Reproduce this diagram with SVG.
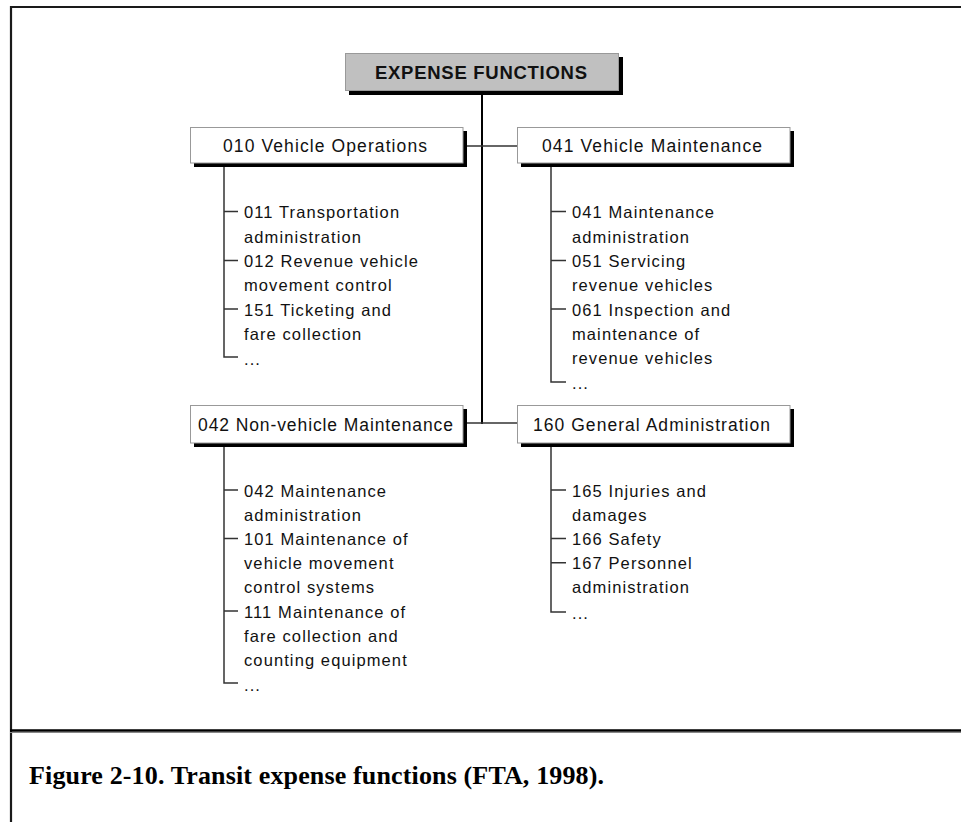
<svg xmlns="http://www.w3.org/2000/svg" width="961" height="822" viewBox="0 0 961 822">
  <style>
    .frame { stroke: #1a1a1a; stroke-width: 2.2; fill: none; }
    .trunk { stroke: #000; stroke-width: 2; fill: none; }
    .link { stroke: #333; stroke-width: 1.5; fill: none; }
    .box { fill: #fff; stroke: #999; stroke-width: 1; }
    .root { fill: #c0c0c0; stroke: #999; stroke-width: 1; }
    .shadow { fill: #000; }
    .head { font-family: "Liberation Sans", Arial, sans-serif; font-size: 17.5px; fill: #111; text-anchor: middle; }
    .rootlabel { font-family: "Liberation Sans", Arial, sans-serif; font-size: 18.5px; font-weight: bold; fill: #111; text-anchor: middle; }
    .item { font-family: "Liberation Sans", Arial, sans-serif; font-size: 16.5px; letter-spacing: 1.1px; fill: #111; }
    .caption { font-family: "Liberation Serif", "Times New Roman", Times, serif; font-size: 26px; font-weight: bold; fill: #000; }
  </style>

  <rect x="0" y="0" width="961" height="822" fill="#fff"/>

  <!-- figure frame and caption divider -->
  <g id="frame">
    <line class="frame" x1="10" y1="7" x2="961" y2="7"/>
    <line class="frame" x1="11" y1="6" x2="11" y2="822"/>
    <line x1="10" y1="730.5" x2="961" y2="730.5" stroke="#000" stroke-width="2.5"/>
    <line x1="10" y1="732.5" x2="961" y2="732.5" stroke="#888" stroke-width="1"/>
  </g>

  <!-- connectors -->
  <g id="connectors">
    <line class="trunk" x1="482" y1="91" x2="482" y2="424"/>
    <line class="link" x1="463" y1="146" x2="517" y2="146"/>
    <line class="link" x1="463" y1="423" x2="517" y2="423"/>

    <!-- 010 list bracket -->
    <path class="link" d="M224,167 V357 H238 M224,211.5 H238 M224,260.5 H238 M224,309 H238"/>
    <!-- 041 list bracket -->
    <path class="link" d="M551,167 V382 H566 M551,211.5 H566 M551,260.5 H566 M551,309 H566"/>
    <!-- 042 list bracket -->
    <path class="link" d="M224,447 V683 H238 M224,490 H238 M224,538.5 H238 M224,611 H238"/>
    <!-- 160 list bracket -->
    <path class="link" d="M551,447 V612 H566 M551,490 H566 M551,538.5 H566 M551,562.7 H566"/>
  </g>

  <g id="expense-functions">
    <rect class="shadow" x="349" y="57" width="274" height="38"/>
    <rect class="root" x="345.5" y="53.5" width="273" height="37"/>
    <text class="rootlabel" x="481" y="78.5" textLength="212" lengthAdjust="spacing">EXPENSE FUNCTIONS</text>
  </g>

  <g id="vehicle-operations">
    <rect class="shadow" x="194" y="131" width="273" height="36"/>
    <rect class="box" x="190.5" y="127.5" width="272.5" height="35.5"/>
    <text class="head" x="325" y="152" textLength="204" lengthAdjust="spacing">010 Vehicle Operations</text>
  </g>

  <g id="vehicle-maintenance">
    <rect class="shadow" x="521" y="131" width="273" height="36"/>
    <rect class="box" x="517.5" y="127.5" width="272.5" height="35.5"/>
    <text class="head" x="652" y="152" textLength="220" lengthAdjust="spacing">041 Vehicle Maintenance</text>
  </g>

  <g id="non-vehicle-maintenance">
    <rect class="shadow" x="194" y="409" width="273" height="38"/>
    <rect class="box" x="190.5" y="405.5" width="272.5" height="37.5"/>
    <text class="head" x="325.5" y="430.5" textLength="255" lengthAdjust="spacing">042 Non-vehicle Maintenance</text>
  </g>

  <g id="general-administration">
    <rect class="shadow" x="521" y="409" width="273" height="38"/>
    <rect class="box" x="517.5" y="405.5" width="272.5" height="37.5"/>
    <text class="head" x="651.5" y="430.5" textLength="237" lengthAdjust="spacing">160 General Administration</text>
  </g>

  <g id="list-vehicle-operations" class="item">
    <text x="244" y="218">011 Transportation</text>
    <text x="244" y="242.5">administration</text>
    <text x="244" y="267">012 Revenue vehicle</text>
    <text x="244" y="291">movement control</text>
    <text x="244" y="315.5">151 Ticketing and</text>
    <text x="244" y="339.5">fare collection</text>
    <text x="244" y="365">...</text>
  </g>

  <g id="list-vehicle-maintenance" class="item">
    <text x="572" y="218">041 Maintenance</text>
    <text x="572" y="242.5">administration</text>
    <text x="572" y="267">051 Servicing</text>
    <text x="572" y="291">revenue vehicles</text>
    <text x="572" y="315.5">061 Inspection and</text>
    <text x="572" y="339.5">maintenance of</text>
    <text x="572" y="363.5">revenue vehicles</text>
    <text x="572" y="389">...</text>
  </g>

  <g id="list-non-vehicle-maintenance" class="item">
    <text x="244" y="496.5">042 Maintenance</text>
    <text x="244" y="520.7">administration</text>
    <text x="244" y="545">101 Maintenance of</text>
    <text x="244" y="569.2">vehicle movement</text>
    <text x="244" y="593.4">control systems</text>
    <text x="244" y="617.6">111 Maintenance of</text>
    <text x="244" y="641.8">fare collection and</text>
    <text x="244" y="666">counting equipment</text>
    <text x="244" y="691">...</text>
  </g>

  <g id="list-general-administration" class="item">
    <text x="572" y="496.5">165 Injuries and</text>
    <text x="572" y="520.7">damages</text>
    <text x="572" y="545">166 Safety</text>
    <text x="572" y="569.2">167 Personnel</text>
    <text x="572" y="593.4">administration</text>
    <text x="572" y="619">...</text>
  </g>

  <text class="caption" x="29" y="784" textLength="575" lengthAdjust="spacing">Figure 2-10. Transit expense functions (FTA, 1998).</text>
</svg>
